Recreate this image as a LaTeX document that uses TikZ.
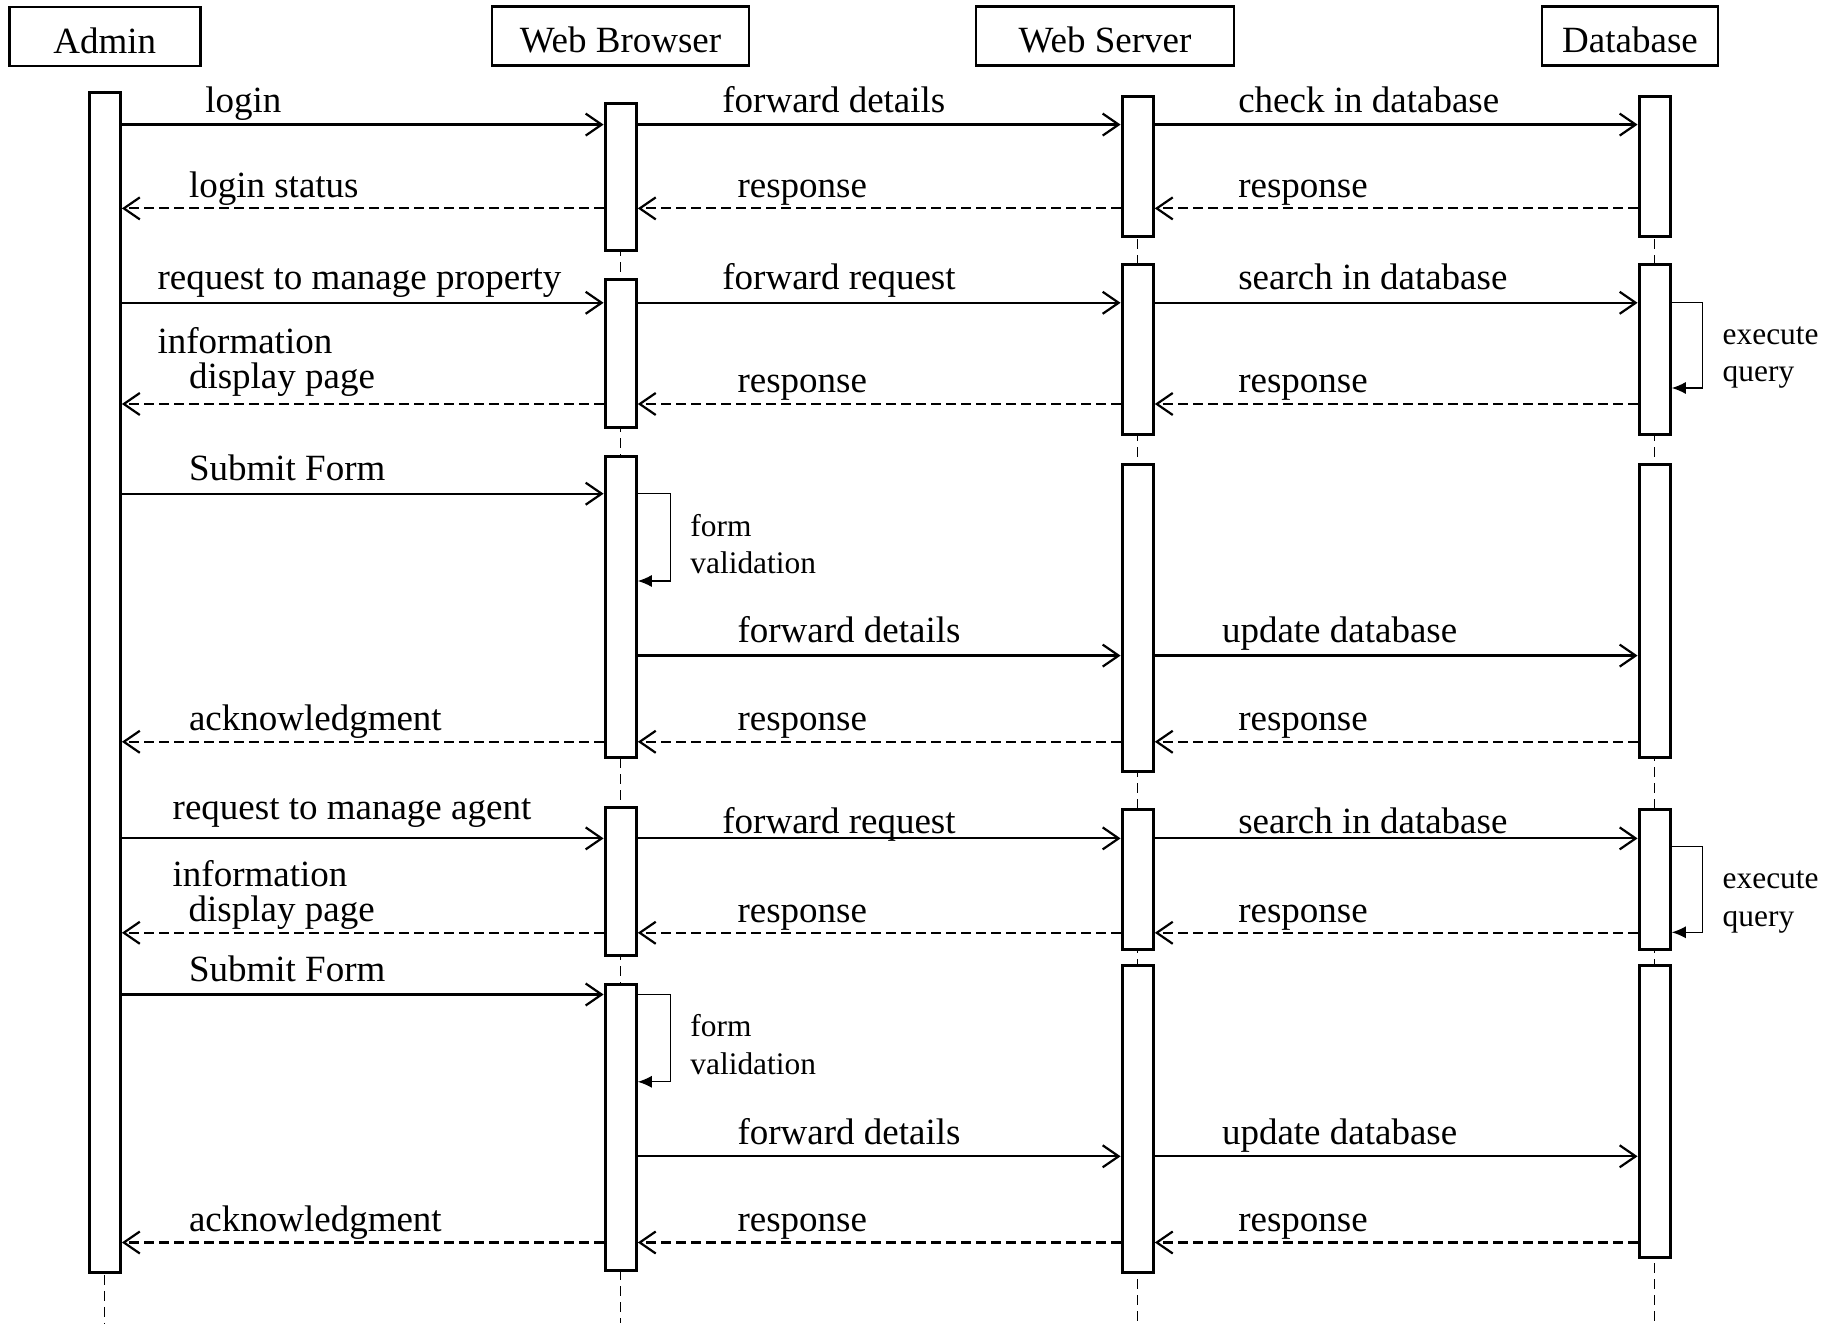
\documentclass[tikz,border=0pt]{standalone}
\usepackage{fontspec}
\setmainfont{Liberation Serif}
\usetikzlibrary{positioning, arrows.meta, backgrounds}

\newcommand{\msgfont}{\fontsize{18.5}{17.5}\selectfont}
\newcommand{\notefont}{\fontsize{15.7}{18.8}\selectfont}

\tikzset{
	actor/.style={draw, line width=1.4pt, minimum height=29.5pt, inner sep=0pt,
		text height=17pt, text depth=0pt, font=\msgfont},
	bar/.style={draw, line width=1.6pt, fill=white, minimum width=15.5pt, inner sep=0pt},
	life/.style={line width=0.5pt, dash pattern=on 5pt off 3pt},
	call/.style={line width=1.1pt, -{Straight Barb[length=8pt,width=11pt]}},
	reply/.style={call, dash pattern=on 5pt off 2.5pt},
	selfcall/.style={line width=0.6pt, -{Latex[length=7pt,width=6pt]}},
	lbl/.style={anchor=base west, inner sep=0pt, align=left, font=\msgfont},
	note/.style={anchor=base west, inner sep=0pt, align=left, font=\notefont},
}

\begin{document}
\begin{tikzpicture}[x=0.5pt, y=-0.5pt]
		\useasboundingbox (0,0) rectangle (1826,1325);

		% heads
		\node[actor, minimum width=95.5pt] (admin) at (104.8,36.5) {Admin};
		\node[actor, minimum width=128.5pt] (browser) at (620.5,36) {Web Browser};
		\node[actor, minimum width=129pt] (server) at (1105,36) {Web Server};
		\node[actor, minimum width=88pt] (database) at (1630,36) {Database};

		% activations
		\node[bar, minimum height=590pt] (adm) at (104.8,682.5) {};

		\node[bar, minimum height=73.2pt] (brw1) at (620.7,177) {};
		\node[bar, minimum height=73.9pt] (brw2) at (620.7,353.3) {};
		\node[bar, minimum height=150.7pt] (brw3) at (620.7,607) {};
		\node[bar, minimum height=74.2pt] (brw4) at (620.7,881.5) {};
		\node[bar, minimum height=143.2pt] (brw5) at (620.7,1127.5) {};

		\node[bar, minimum height=69.7pt] (srv1) at (1137.7,166.5) {};
		\node[bar, minimum height=84.9pt] (srv2) at (1137.7,349.3) {};
		\node[bar, minimum height=153.4pt] (srv3) at (1137.7,618.3) {};
		\node[bar, minimum height=70.2pt] (srv4) at (1137.7,879.5) {};
		\node[bar, minimum height=153.7pt] (srv5) at (1137.7,1119) {};

		\node[bar, minimum height=69.7pt] (dbs1) at (1654.7,166.5) {};
		\node[bar, minimum height=84.9pt] (dbs2) at (1654.7,349.3) {};
		\node[bar, minimum height=146.4pt] (dbs3) at (1654.7,611.3) {};
		\node[bar, minimum height=70.2pt] (dbs4) at (1654.7,879.5) {};
		\node[bar, minimum height=146.2pt] (dbs5) at (1654.7,1111.5) {};

		% lifelines
		\coordinate (bottom) at (0,1323);
		\begin{scope}[on background layer]
			\draw[life] (adm.north) -- (adm.north |- bottom);
			\draw[life] (brw1.north) -- (brw1.north |- bottom);
			\draw[life] (srv1.north) -- (srv1.north |- bottom);
			\draw[life] (dbs1.north) -- (dbs1.north |- bottom);
		\end{scope}

		% message rows
		\coordinate (m1) at (0,124.6);
		\coordinate (m2) at (0,208.4);
		\coordinate (m3) at (0,302.8);
		\coordinate (m4) at (0,404);
		\coordinate (m5) at (0,493.7);
		\coordinate (m6) at (0,655.6);
		\coordinate (m7) at (0,741.8);
		\coordinate (m8) at (0,838.4);
		\coordinate (m9) at (0,932.8);
		\coordinate (m10) at (0,994.5);
		\coordinate (m11) at (0,1156.3);
		\coordinate (m12) at (0,1242.5);

		% login
		\draw[call] (adm.east |- m1) -- (brw1.west |- m1);
		\draw[call] (brw1.east |- m1) -- (srv1.west |- m1);
		\draw[call] (srv1.east |- m1) -- (dbs1.west |- m1);
		\node[lbl] (login) at (205,112.4) {login};
		\node[lbl] (fwddet1) at (722,112.4) {forward details};
		\node[lbl] (check) at (1237.9,112.4) {check in database};

		\draw[reply] (brw1.west |- m2) -- (adm.east |- m2);
		\draw[reply] (srv1.west |- m2) -- (brw1.east |- m2);
		\draw[reply] (dbs1.west |- m2) -- (srv1.east |- m2);
		\node[lbl] (status) at (188.6,197.4) {login status};
		\node[lbl] (resp1) at (737.1,197.4) {response};
		\node[lbl] (resp2) at (1237.9,197.4) {response};

		% manage property
		\draw[call] (adm.east |- m3) -- (brw2.west |- m3);
		\draw[call] (brw2.east |- m3) -- (srv2.west |- m3);
		\draw[call] (srv2.east |- m3) -- (dbs2.west |- m3);
		\node[lbl] (reqprop) at (157.2,289.4) {request to manage property};
		\node[lbl] (fwdreq1) at (722,289.4) {forward request};
		\node[lbl] (search1) at (1237.9,289.4) {search in database};

		\coordinate (q1) at (0,388);
		\draw[selfcall] (dbs2.east |- m3) -- ++(31,0) |- (dbs2.east |- q1);
		\node[note] (exec1) at (1722.3,382) {execute\\query};

		\draw[reply] (brw2.west |- m4) -- (adm.east |- m4);
		\draw[reply] (srv2.west |- m4) -- (brw2.east |- m4);
		\draw[reply] (dbs2.west |- m4) -- (srv2.east |- m4);
		\node[lbl] (info1) at (157.2,389) {information\\\hspace*{15.7pt}display page};
		\node[lbl] (resp3) at (737.1,393) {response};
		\node[lbl] (resp4) at (1237.9,393) {response};

		% submit property form
		\draw[call] (adm.east |- m5) -- (brw3.west |- m5);
		\node[lbl] (submit1) at (188.6,480.4) {Submit Form};

		\coordinate (v1) at (0,581);
		\draw[selfcall] (brw3.east |- m5) -- ++(33,0) |- (brw3.east |- v1);
		\node[note] (valid1) at (690,574) {form\\validation};

		\draw[call] (brw3.east |- m6) -- (srv3.west |- m6);
		\draw[call] (srv3.east |- m6) -- (dbs3.west |- m6);
		\node[lbl] (fwddet2) at (737.1,642.2) {forward details};
		\node[lbl] (update1) at (1221.6,642.2) {update database};

		\draw[reply] (brw3.west |- m7) -- (adm.east |- m7);
		\draw[reply] (srv3.west |- m7) -- (brw3.east |- m7);
		\draw[reply] (dbs3.west |- m7) -- (srv3.east |- m7);
		\node[lbl] (ack1) at (188.6,730.7) {acknowledgment};
		\node[lbl] (resp5) at (737.1,730.7) {response};
		\node[lbl] (resp6) at (1237.9,730.7) {response};

		% manage agent
		\draw[call] (adm.east |- m8) -- (brw4.west |- m8);
		\draw[call] (brw4.east |- m8) -- (srv4.west |- m8);
		\draw[call] (srv4.east |- m8) -- (dbs4.west |- m8);
		\node[lbl] (reqagent) at (172.3,819.2) {request to manage agent};
		\node[lbl] (fwdreq2) at (722,833.2) {forward request};
		\node[lbl] (search2) at (1237.9,833.2) {search in database};

		\coordinate (q2a) at (0,846.6);
		\coordinate (q2b) at (0,932.3);
		\draw[selfcall] (dbs4.east |- q2a) -- ++(31,0) |- (dbs4.east |- q2b);
		\node[note] (exec2) at (1722.3,926) {execute\\query};

		\draw[reply] (brw4.west |- m9) -- (adm.east |- m9);
		\draw[reply] (srv4.west |- m9) -- (brw4.east |- m9);
		\draw[reply] (dbs4.west |- m9) -- (srv4.east |- m9);
		\node[lbl] (info2) at (172.3,921.7) {information\\\hspace*{8pt}display page};
		\node[lbl] (resp7) at (737.1,922.9) {response};
		\node[lbl] (resp8) at (1237.9,922.9) {response};

		% submit agent form
		\draw[call] (adm.east |- m10) -- (brw5.west |- m10);
		\node[lbl] (submit2) at (188.6,981.1) {Submit Form};

		\coordinate (v2) at (0,1081.8);
		\draw[selfcall] (brw5.east |- m10) -- ++(33,0) |- (brw5.east |- v2);
		\node[note] (valid2) at (690,1074) {form\\validation};

		\draw[call] (brw5.east |- m11) -- (srv5.west |- m11);
		\draw[call] (srv5.east |- m11) -- (dbs5.west |- m11);
		\node[lbl] (fwddet3) at (737.1,1144.1) {forward details};
		\node[lbl] (update2) at (1221.6,1144.1) {update database};

		\draw[reply] (brw5.west |- m12) -- (adm.east |- m12);
		\draw[reply] (srv5.west |- m12) -- (brw5.east |- m12);
		\draw[reply] (dbs5.west |- m12) -- (srv5.east |- m12);
		\node[lbl] (ack2) at (188.6,1231.5) {acknowledgment};
		\node[lbl] (resp9) at (737.1,1231.5) {response};
		\node[lbl] (resp10) at (1237.9,1231.5) {response};

	\end{tikzpicture}
\end{document}
